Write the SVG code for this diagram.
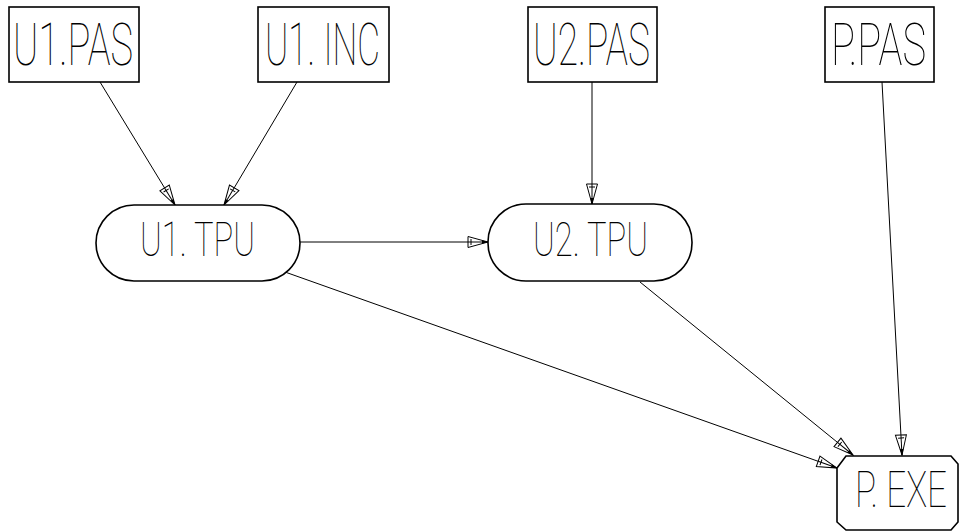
<svg xmlns="http://www.w3.org/2000/svg" width="960" height="532" viewBox="0 0 960 532">
<style>
.box{fill:#fff;stroke:#000;stroke-width:1.6}
.edge{fill:none;stroke:#000;stroke-width:1}
.lbl{font-family:Roboto,"Liberation Sans",sans-serif;font-weight:100;fill:#000}
.big{font-size:35px}
.mid{font-size:32px}
</style>
<defs>
<marker id="arr" viewBox="-1 -8 23 16" markerWidth="23" markerHeight="16" refX="20" refY="0" orient="auto" markerUnits="userSpaceOnUse">
<path d="M0,-5.5 L20,0 L0,5.5 Z M3,-3 L3,3" fill="#fff" stroke="#000" stroke-width="1"/>
<path d="M0,0 L20,0" stroke="#000" stroke-width="1"/>
<path d="M14,-1.8 L20,0 L14,1.8 Z" fill="#000"/>
</marker>
</defs>
<rect width="960" height="532" fill="#fff"/>
<g id="edges">
<line class="edge" x1="100" y1="82" x2="175" y2="205" marker-end="url(#arr)"/>
<line class="edge" x1="297" y1="82" x2="224" y2="205" marker-end="url(#arr)"/>
<line class="edge" x1="592" y1="82" x2="592" y2="204" marker-end="url(#arr)"/>
<line class="edge" x1="882" y1="82" x2="902" y2="455" marker-end="url(#arr)"/>
<line class="edge" x1="300" y1="242" x2="488" y2="242" marker-end="url(#arr)"/>
<line class="edge" x1="285" y1="272" x2="837" y2="468" marker-end="url(#arr)"/>
<line class="edge" x1="640" y1="282" x2="853" y2="455" marker-end="url(#arr)"/>
</g>
<g id="U1PAS">
<rect class="box" x="9" y="7" width="130" height="75"/>
<text class="lbl big" transform="translate(13,65) scale(1,1.7)" textLength="120" lengthAdjust="spacingAndGlyphs">U1.PAS</text>
</g>
<g id="U1INC">
<rect class="box" x="258" y="7" width="131" height="75"/>
<text class="lbl big" transform="translate(265,65) scale(1,1.7)" textLength="115" lengthAdjust="spacingAndGlyphs">U1. INC</text>
</g>
<g id="U2PAS">
<rect class="box" x="528" y="7" width="129" height="75"/>
<text class="lbl big" transform="translate(533,65) scale(1,1.7)" textLength="117" lengthAdjust="spacingAndGlyphs">U2.PAS</text>
</g>
<g id="PPAS">
<rect class="box" x="825" y="7" width="109" height="75"/>
<text class="lbl big" transform="translate(831,65) scale(1,1.7)" textLength="95" lengthAdjust="spacingAndGlyphs">P.PAS</text>
</g>
<g id="U1TPU">
<rect class="box" x="96" y="205" width="204" height="76" rx="38" ry="38"/>
<text class="lbl mid" transform="translate(140,256) scale(1,1.5)" textLength="115" lengthAdjust="spacingAndGlyphs">U1. TPU</text>
</g>
<g id="U2TPU">
<rect class="box" x="488" y="204" width="204" height="77" rx="38" ry="38"/>
<text class="lbl mid" transform="translate(533,256) scale(1,1.5)" textLength="115" lengthAdjust="spacingAndGlyphs">U2. TPU</text>
</g>
<g id="PEXE">
<path class="box" d="M837,468 L846,456 L951,456 L958,464 L958,522 L951,530 L846,530 L837,522 Z"/>
<text class="lbl mid" transform="translate(855,507) scale(1,1.55)" textLength="92" lengthAdjust="spacingAndGlyphs">P. EXE</text>
</g>
</svg>
